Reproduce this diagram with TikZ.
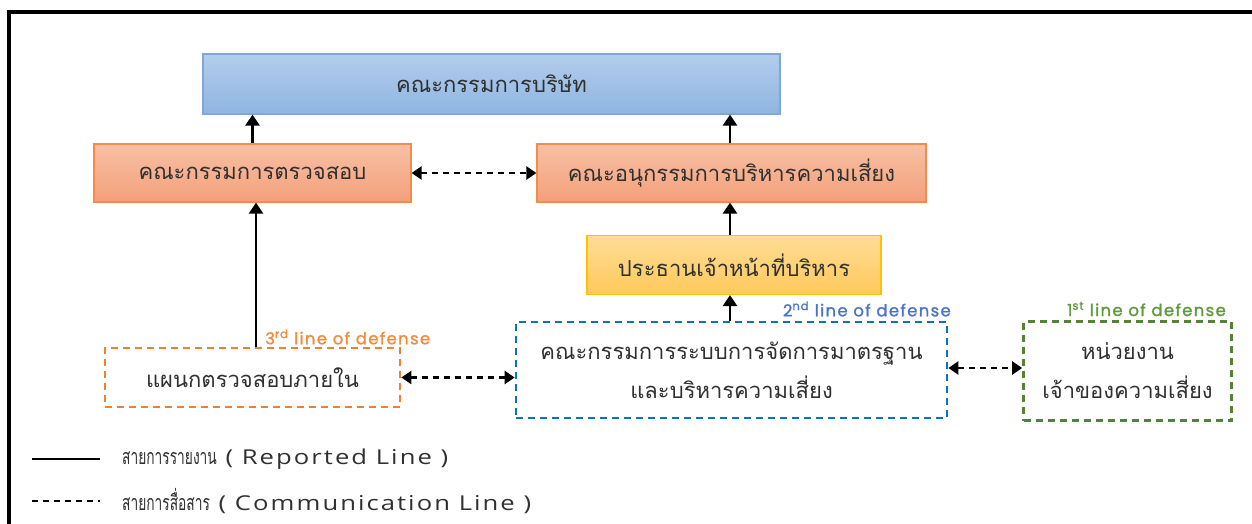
\documentclass[tikz,border=0pt]{standalone}
\usepackage{fontspec}
\usepackage{graphicx}
\setmainfont[Script=Thai]{Loma}
\newfontfamily\lodfont[FakeBold=1.2,LetterSpace=8]{Poppins}
\newfontfamily\legfont[FakeStretch=1.25,LetterSpace=10]{Open Sans}
\usetikzlibrary{arrows.meta}
\definecolor{txt}{HTML}{303030}
\definecolor{bluetop}{HTML}{B3CDEB}
\definecolor{bluebot}{HTML}{8FB5E2}
\definecolor{blueedge}{HTML}{7EA6D8}
\definecolor{ortop}{HTML}{F7C0A4}
\definecolor{orbot}{HTML}{F4A07A}
\definecolor{oredge}{HTML}{F58A4A}
\definecolor{yetop}{HTML}{FFDD96}
\definecolor{yebot}{HTML}{FFC85A}
\definecolor{yeedge}{HTML}{FFC000}
\definecolor{dor}{HTML}{F07F30}
\definecolor{dbl}{HTML}{0A72C4}
\definecolor{dgr}{HTML}{558234}
\definecolor{lor}{HTML}{F48A3E}
\definecolor{lbl}{HTML}{4A74C6}
\definecolor{lgr}{HTML}{5E9A3A}
\newcommand{\thleg}[1]{\scalebox{0.64}[1]{\fontsize{21.5}{24}\selectfont #1}}
\newcommand{\laleg}[1]{{\legfont\fontsize{20.5}{24}\selectfont #1}}
\tikzset{
  thai/.style={font=\fontsize{22}{39}\selectfont, text=txt, align=center},
  solidbox/.style={thai, draw, line width=1.2pt, inner sep=0pt},
  dbox/.style={thai, draw, line width=2.7pt, dash pattern=on 7pt off 5pt, inner sep=0pt},
  lod/.style={font=\fontsize{16.5}{18}\lodfont, inner sep=0pt},
  rep/.style={line width=2.8pt, -{Triangle[length=11pt,width=14pt]}},
  com/.style={line width=2.4pt, dash pattern=on 6pt off 5pt, {Triangle[length=10pt,width=13pt]}-{Triangle[length=10pt,width=13pt]}},
  legline/.style={text=txt, anchor=west, inner sep=0pt},
}
\begin{document}
\begin{tikzpicture}[x=1pt,y=-1pt]
\useasboundingbox (0,0) rectangle (1252,524);
\fill[white] (0,0) rectangle (1252,524);
% frame
\draw[line width=4pt] (9,524) -- (9,12) -- (1252,12);

\node[solidbox, draw=blueedge, top color=bluetop, bottom color=bluebot, minimum width=577pt, minimum height=60pt] (board) at (491.5,84) {คณะกรรมการบริษัท};
\node[solidbox, draw=oredge, top color=ortop, bottom color=orbot, minimum width=317pt, minimum height=58pt] (ac) at (252.5,173) {คณะกรรมการตรวจสอบ};
\node[solidbox, draw=oredge, top color=ortop, bottom color=orbot, minimum width=389pt, minimum height=58pt] (risk) at (731.5,173) {คณะอนุกรรมการบริหารความเสี่ยง};
\node[solidbox, draw=yeedge, top color=yetop, bottom color=yebot, minimum width=294pt, minimum height=59pt] (ceo) at (734,265) {ประธานเจ้าหน้าที่บริหาร};
\node[dbox, draw=dor, minimum width=295pt, minimum height=59pt] (ia) at (252.5,377.5) {แผนกตรวจสอบภายใน};
\node[dbox, draw=dbl, minimum width=431pt, minimum height=96pt] (l2) at (731.5,370) {คณะกรรมการระบบการจัดการมาตรฐาน\\และบริหารความเสี่ยง};
\node[dbox, draw=dgr, minimum width=208pt, minimum height=99pt] (l1) at (1127.5,371) {หน่วยงาน\\เจ้าของความเสี่ยง};

\node[lod, text=lor, anchor=west] (lab3) at (265,337) {3\textsuperscript{rd} line of defense};
\node[lod, text=lbl, anchor=east] (lab2) at (951,309) {2\textsuperscript{nd} line of defense};
\node[lod, text=lgr, anchor=east] (lab1) at (1226,309) {1\textsuperscript{st} line of defense};

% reporting lines
\draw[rep] (ac.north) -- (ac.north |- board.south);
\draw[rep] ([xshift=-1.5pt]risk.north) -- ([xshift=-1.5pt]risk.north |- board.south);
\draw[rep] ([xshift=-4pt]ceo.north) -- ([xshift=-4pt]ceo.north |- risk.south);
\draw[rep] ([xshift=-1.5pt]l2.north) -- ([xshift=-1.5pt]l2.north |- ceo.south);
\draw[rep] ([xshift=3.5pt]ia.north) -- ([xshift=3.5pt]ia.north |- ac.south);

% communication lines
\draw[com] (ac.east) -- (risk.west);
\draw[com] (ia.east) -- (ia.east -| l2.west);
\draw[com] ([yshift=2pt]l2.east) -- ([yshift=2pt]l2.east -| l1.west);

% legend
\coordinate (s1) at (32,459);
\coordinate (s2) at (100,459);
\coordinate (d1) at (32,501);
\coordinate (d2) at (100,501);
\draw[line width=1.8pt] (s1) -- (s2);
\draw[line width=2.2pt, dash pattern=on 6pt off 5pt] (d1) -- (d2);
\node[legline] (leg1) at (122,459) {\thleg{สายการรายงาน}\laleg{ ( Reported Line )}};
\node[legline] (leg2) at (122,501) {\thleg{สายการสื่อสาร}\laleg{ ( Communication Line )}};
\end{tikzpicture}
\end{document}
